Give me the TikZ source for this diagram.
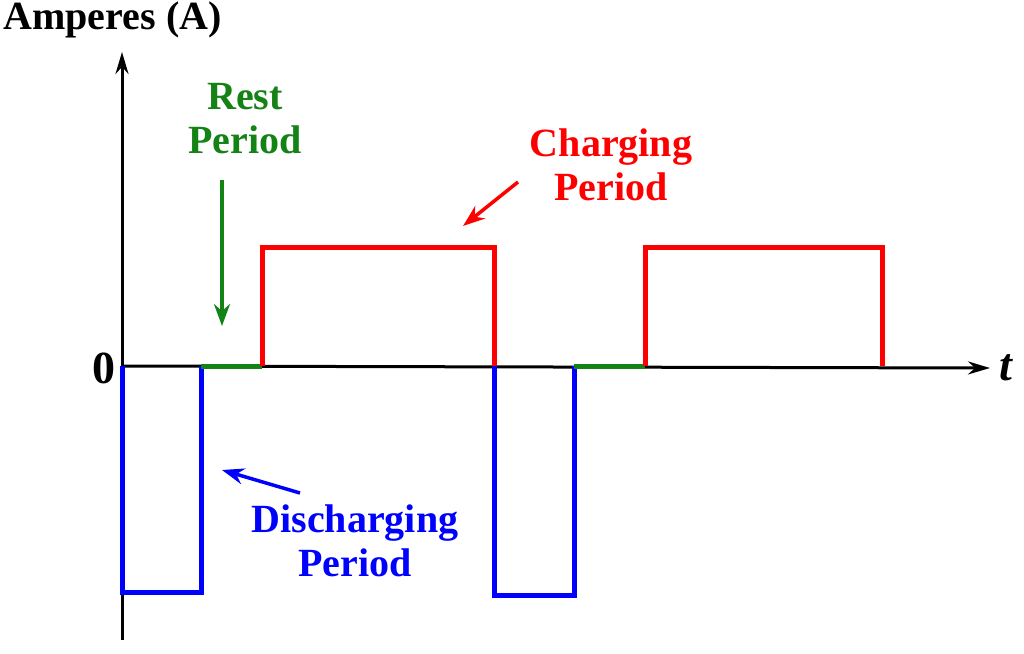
\documentclass[tikz,border=0pt]{standalone}
\usepackage{fontspec}
\setmainfont{Liberation Serif}
\usetikzlibrary{arrows.meta}
\begin{document}
\begin{tikzpicture}[x=1pt,y=-1pt,
  lbl/.style={font=\fontsize{40}{44}\selectfont\bfseries,align=center},
  sig/.style={line width=5pt},
  ax/.style={line width=3pt,-{Stealth[length=22pt,width=13pt]}},
  ptr/.style={line width=3.5pt,-{Stealth[length=22pt,width=16pt]}}]
\useasboundingbox (0,0) rectangle (1024,653);
\definecolor{gr}{RGB}{20,130,20}
\coordinate (o) at (122,366);
\coordinate (ytop) at (122,52);
\coordinate (ybot) at (122,640);
\coordinate (xend) at (990,368);
\draw[line width=3pt] (ybot) -- (o);
\draw[ax] (o) -- (ytop);
\draw[ax] (o) -- (xend);
\node[lbl,anchor=west] (amp) at (0,20) {Amperes (A)};
\node[lbl,font=\fontsize{46}{46}\selectfont\bfseries] (zero) at (104,368) {0};
\node[lbl,font=\fontsize{46}{46}\selectfont\bfseries\itshape] (t) at (1006,368) {t};
\draw[sig,blue] (122,366) -- (122,592) -- (201,592) -- (201,366);
\draw[sig,blue] (494,366) -- (494,595) -- (574,595) -- (574,366);
\draw[sig,gr] (201,366) -- (262,366);
\draw[sig,gr] (574,366) -- (645,366);
\draw[sig,red] (262,366) -- (262,247) -- (494,247) -- (494,366);
\draw[sig,red] (645,366) -- (645,247) -- (882,247) -- (882,366);
\node[lbl,text=gr] (rest) at (245,119) {Rest\\Period};
\node[lbl,text=red] (chg) at (611,165) {Charging\\Period};
\node[lbl,text=blue] (dis) at (355,541) {Discharging\\Period};
\coordinate (ra) at (222,180); \coordinate (rb) at (222,326);
\coordinate (ca) at (518,182); \coordinate (cb) at (463,226);
\coordinate (da) at (300,493); \coordinate (db) at (222,470);
\draw[ptr,gr] (ra) -- (rb);
\draw[ptr,red] (ca) -- (cb);
\draw[ptr,blue] (da) -- (db);
\end{tikzpicture}
\end{document}
